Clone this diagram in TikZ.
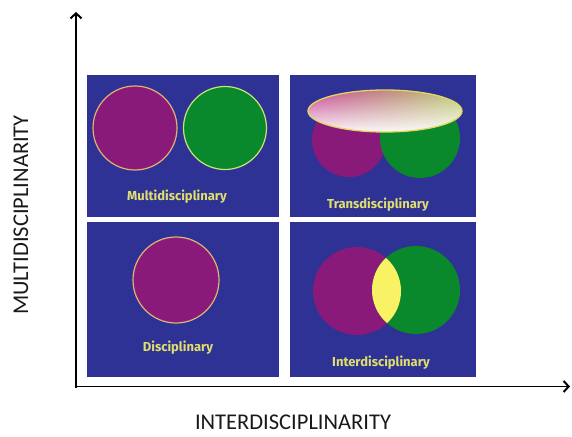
\documentclass[tikz,border=0pt]{standalone}
\usepackage{fontspec}
\setmainfont{Carlito}
\newfontfamily\lblfont{Fira Sans}
\usetikzlibrary{arrows.meta,fadings}
\definecolor{panelblue}{RGB}{46,50,148}
\definecolor{discpurple}{RGB}{138,26,122}
\definecolor{discgreen}{RGB}{10,136,44}
\definecolor{lblyellow}{RGB}{224,222,108}
\definecolor{rimorange}{RGB}{222,180,110}
\definecolor{rimgreen}{RGB}{200,228,120}
\definecolor{lensyellow}{RGB}{248,242,100}
\definecolor{pinktop}{RGB}{200,70,150}
\definecolor{greentop}{RGB}{184,204,110}
\tikzfading[name=fadedown, top color=transparent!100, bottom color=transparent!0]
\begin{document}
\begin{tikzpicture}[x=1pt,y=-1pt,
  panelbox/.style={fill=panelblue},
  lbl/.style={text=lblyellow, font=\lblfont\bfseries\fontsize{13}{14}\selectfont, inner sep=0pt},
  axislbl/.style={font=\fontsize{22.5}{26}\selectfont, text=black!90, inner sep=0pt},
  axisline/.style={line width=1.7pt, -{Straight Barb[length=5pt,width=11pt,line width=2pt]}}]
\useasboundingbox (0,0) rectangle (572,436);
\fill[white] (0,0) rectangle (572,436);
% panels
\fill[panelbox] (87,75) rectangle (279,217);
\fill[panelbox] (290,75) rectangle (476,217);
\fill[panelbox] (87,222) rectangle (279,377);
\fill[panelbox] (290,222) rectangle (476,377);
% multidisciplinary
\filldraw[fill=discpurple, draw=rimorange, line width=1.2pt] (135,128) circle (42);
\filldraw[fill=discgreen, draw=rimgreen, line width=1.2pt] (225,128) circle (41.5);
\node[lbl] (multi) at (177,197) {Multidisciplinary};
% transdisciplinary
\fill[discpurple] (349,140) circle (37);
\fill[discgreen] (420,138) circle (40);
\shade[left color=pinktop, right color=greentop] (385,111) ellipse (77 and 21);
\fill[white, path fading=fadedown, fill opacity=0.95] (385,111) ellipse (77 and 21);
\draw[lblyellow!90!orange, line width=1.3pt] (385,111) ellipse (77 and 21);
\node[lbl] (trans) at (378,205) {Transdisciplinary};
% disciplinary
\filldraw[fill=discpurple, draw=rimorange, line width=1.2pt] (176,280) circle (43);
\node[lbl] (disc) at (178,348) {Disciplinary};
% interdisciplinary
\fill[discpurple] (357,291) circle (44);
\fill[discgreen] (416,290) circle (44);
\begin{scope}
  \clip (357,291) circle (44);
  \fill[lensyellow] (416,290) circle (44);
\end{scope}
\node[lbl] (inter) at (381,363) {Interdisciplinary};
% axes
\coordinate (origin) at (76,388);
\coordinate (ytip) at (76,12);
\coordinate (xtip) at (570,386.5);
\coordinate (xstart) at (75.2,386.5);
\draw[axisline] (origin) -- (ytip);
\draw[axisline] (xstart) -- (xtip);
\node[axislbl, rotate=90] (ylab) at (21,215) {MULTIDISCIPLINARITY};
\node[axislbl] (xlab) at (293,422) {INTERDISCIPLINARITY};
\end{tikzpicture}
\end{document}
